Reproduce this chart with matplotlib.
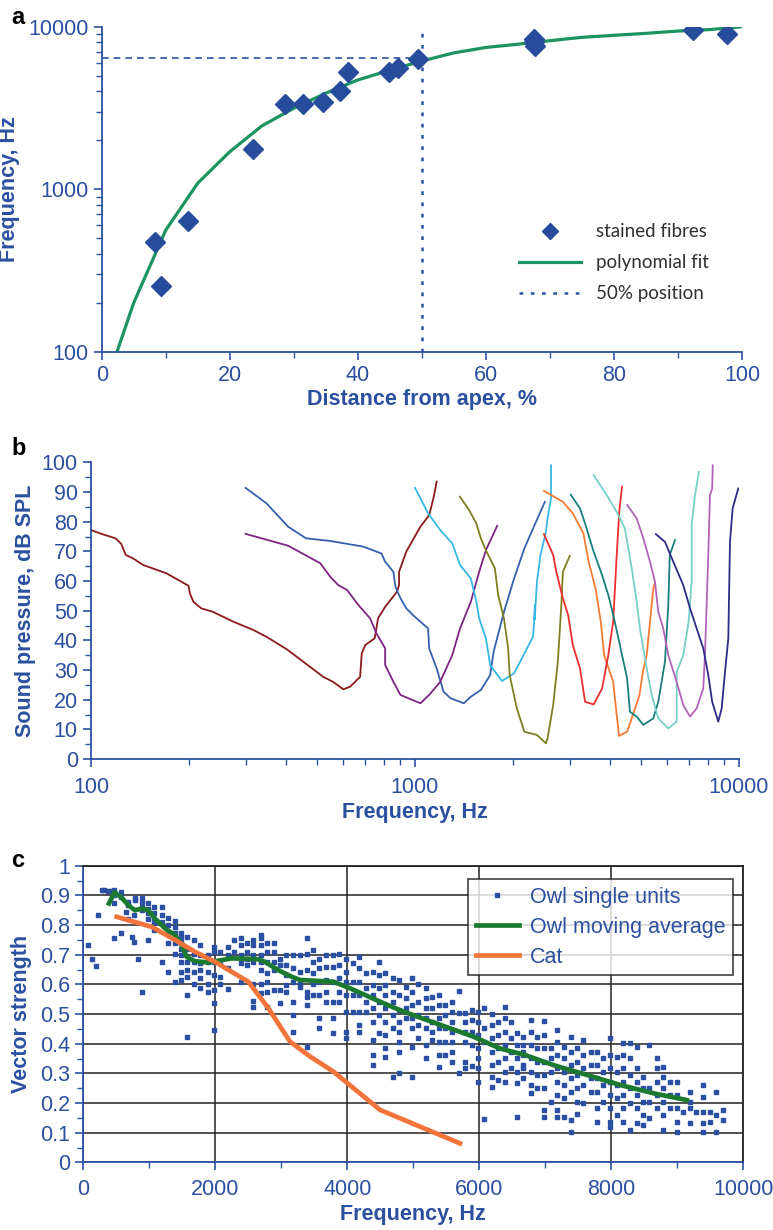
import numpy as np
import matplotlib
matplotlib.use("Agg")
import matplotlib.pyplot as plt
from matplotlib.ticker import MultipleLocator, FixedLocator, NullFormatter, FuncFormatter, LogLocator

plt.rcParams['font.family'] = ['Liberation Sans', 'DejaVu Sans']

BLUE = '#2c52a2'
TXT = '#2b50a0'

# ---- panel a: fibre positions vs frequency
fib_pos = [8.3, 9.2, 13.5, 23.6, 28.7, 31.5, 34.5, 37.2, 38.5, 44.8, 46.3, 49.4, 67.5, 67.5, 67.6, 92.4, 97.7]
fib_freq = [471, 255, 637, 1766, 3340, 3340, 3430, 4035, 5240, 5240, 5600, 6325, 8400, 8100, 7640, 9550, 8980]
fit_pos = [2, 5, 10, 15, 20, 25, 30, 35, 40, 45, 50, 55, 60, 65, 70, 75, 80, 85, 90, 95, 100]
fit_freq = [90, 200, 560, 1090, 1700, 2450, 3150, 3900, 4700, 5400, 6150, 6900, 7450, 7800, 8200, 8600, 8850, 9100, 9400, 9600, 10000]
half_pos = 50
half_freq = 6400

# ---- panel b: tuning curves (frequency Hz, dB SPL)
tc_maroon = [(100, 77.2), (107, 76), (119, 74.4), (124, 72.5), (128, 68.8), (135, 67.6), (145, 65.4),
             (171, 62.6), (200, 58.4), (202, 55.8), (207, 53), (219, 50.8), (238, 49.6), (275, 46.3),
             (317, 43.5), (348, 41.2), (402, 37), (474, 31.1), (521, 27.7), (559, 26), (601, 23.5),
             (631, 24.4), (677, 27.7), (685, 35.6), (702, 38.4), (751, 40.7), (769, 47.4), (809, 51.3),
             (880, 56.4), (893, 58.6), (893, 63.1), (940, 69.9), (1039, 78.3), (1106, 82.2),
             (1140, 87.9), (1167, 93.5)]
tc_blue = [(300, 91.4), (348, 86.2), (406, 78.3), (461, 74.4), (548, 73.5), (692, 71.6), (788, 69.3),
           (809, 66.5), (858, 63.1), (870, 58.1), (902, 54.2), (940, 50.8), (986, 48.5), (1098, 44),
           (1106, 37.3), (1167, 30.5), (1225, 22.7), (1288, 20.5), (1415, 18.8), (1487, 21),
           (1598, 23.3), (1706, 28.3), (1749, 36.2), (1882, 49.6), (2023, 60.9), (2176, 71),
           (2340, 78.9), (2517, 86.7)]
tc_purple = [(300, 75.9), (406, 71.9), (510, 66), (548, 61.4), (580, 58.6), (617, 57), (669, 51.9),
             (727, 47.4), (760, 42.4), (809, 37.3), (809, 31.7), (858, 26), (902, 21.6), (1039, 18.8),
             (1106, 21.6), (1196, 26), (1303, 35), (1377, 44), (1487, 53), (1578, 63.1),
             (1655, 70.4), (1793, 78.6)]
tc_cyan = [(1000, 91.4), (1098, 82.8), (1196, 77.2), (1303, 72.7), (1377, 65.4), (1487, 60.9),
           (1547, 53), (1578, 47.4), (1655, 40.7), (1706, 31.7), (1855, 26.3), (2023, 28.9),
           (2313, 41.2), (2335, 47), (2345, 52), (2340, 47), (2380, 59.8), (2440, 68.8),
           (2536, 76.6), (2565, 81.1), (2630, 87.9), (2630, 99)]
tc_olive = [(1377, 88.4), (1469, 83.9), (1547, 79.4), (1598, 74.3), (1655, 70.4), (1764, 64.3),
            (1806, 55.3), (1882, 47.4), (1939, 37.3), (1960, 28.3), (2062, 17.1), (2176, 9.2),
            (2380, 8.1), (2536, 5.3), (2565, 7), (2670, 18.2), (2760, 32.8), (2830, 51.9),
            (2860, 63.1), (3005, 68.5)]
tc_orange = [(2500, 90.4), (2860, 86.7), (3070, 82.8), (3312, 76), (3435, 66.5), (3608, 57.5),
             (3745, 46.3), (3837, 35), (4090, 26), (4194, 14.8), (4266, 7.8), (4510, 9.2),
             (4630, 12.6), (4930, 21.6), (5050, 29.4), (5189, 35), (5313, 46.3), (5439, 57.5),
             (5503, 59.2)]
tc_red = [(2500, 75.8), (2670, 68.8), (2730, 63.1), (2860, 54.2), (2970, 48.5), (3070, 38.4),
          (3230, 30.6), (3350, 19.3), (3560, 18.4), (3780, 23.8), (3950, 35), (4090, 46.3),
          (4194, 68.8), (4270, 83.3), (4354, 91.8)]
tc_teal = [(3025, 89.1), (3230, 84.5), (3360, 78.9), (3560, 69.9), (3780, 62), (3950, 55.3),
           (4093, 48.5), (4290, 38.4), (4515, 27.2), (4608, 15.9), (4834, 14.3), (5067, 11.5),
           (5439, 13.7), (5636, 19.3), (5910, 32.8), (6050, 51.9), (6115, 68.8), (6345, 73.8)]
tc_aqua = [(3560, 95.7), (3904, 89), (4194, 83.3), (4446, 77.7), (4666, 64.3), (4834, 53),
           (4947, 44), (5190, 30.6), (5377, 21.6), (5636, 13.7), (6050, 10.3), (6422, 12.6),
           (6422, 29.4), (6731, 35), (6990, 46.3), (7145, 59.8), (7145, 78.9), (7314, 89),
           (7524, 96.8)]
tc_orchid = [(4522, 85.6), (4834, 81.1), (5067, 74.4), (5313, 66.5), (5503, 59.8), (5636, 49.6),
             (5838, 44), (6050, 35), (6422, 26), (6731, 18.2), (7061, 14.3), (7403, 17.1),
             (7758, 23.8), (7852, 35), (8040, 68.8), (8137, 89), (8266, 91.2), (8300, 99)]
tc_navy = [(5540, 75.8), (5910, 73.2), (6270, 66.5), (6731, 58.6), (7061, 50.8), (7403, 44),
           (7758, 37.3), (8040, 28.3), (8266, 19.3), (8630, 12.6), (8843, 17.1), (9055, 29.4),
           (9270, 40.7), (9380, 73.2), (9560, 84.5), (9950, 91.2)]
tc_list = [tc_maroon, tc_blue, tc_purple, tc_cyan, tc_olive, tc_orange, tc_red, tc_teal,
           tc_aqua, tc_orchid, tc_navy]
tc_colors = ['#8b1a1a', '#3560b0', '#7d2382', '#36b8e6', '#7f7f22', '#f47b30', '#ec2e2e',
             '#17807a', '#76d0c8', '#b263b8', '#2c2c86']

# ---- panel c: vector strength
owl_freq = [66, 137, 187, 228, 278, 319, 379, 420, 470, 571, 642, 682, 733, 773, 783, 823, 884, 985,
            1076, 1187, 1278, 1389, 1480, 1571, 1682, 1773, 1884, 1980, 2071, 2187, 2278, 2384,
            2485, 2576, 2687, 2778, 2889, 2980, 3071, 3182, 3283, 3384, 3475, 3576, 3677, 3778,
            3879, 3980, 4081, 4182, 4283, 4394, 4485, 4576, 4687, 4778, 4889, 4980, 5076, 5192,
            5283, 5394, 5485, 5581, 5687, 5783, 5894, 5985, 6076, 6187, 6288, 6389, 6475, 6576,
            6656, 6779, 6880, 6981, 7082, 7183, 7284, 7390, 7486, 7576, 7688, 7778, 7880, 7981,
            8081, 8183, 8284, 8385, 8486, 8576, 8688, 8778, 8890, 8991, 9092, 9192, 9283, 9394,
            9495, 9581, 9687]
owl_vs = [
    [0.732], [0.685], [0.663], [0.833], [0.92], [0.92], [0.915], [0.915],
    [0.92, 0.91, 0.90, 0.873, 0.755], [0.91, 0.895, 0.775], [0.845], [0.878, 0.867, 0.822],
    [0.76], [0.744, 0.834], [0.89, 0.884], [0.685], [0.892, 0.878, 0.862, 0.85, 0.575],
    [0.873, 0.856, 0.84, 0.822, 0.75], [0.86, 0.84, 0.817, 0.806, 0.783],
    [0.86, 0.834, 0.81, 0.674], [0.825, 0.8, 0.772, 0.738, 0.643],
    [0.813, 0.794, 0.772, 0.755, 0.738, 0.704, 0.609],
    [0.775, 0.76, 0.744, 0.721, 0.699, 0.676, 0.643, 0.615],
    [0.76, 0.721, 0.676, 0.648, 0.626, 0.566, 0.424], [0.75, 0.704, 0.676, 0.643, 0.603],
    [0.732, 0.699, 0.671, 0.648, 0.62, 0.587], [0.699, 0.676, 0.643, 0.603, 0.575],
    [0.727, 0.71, 0.676, 0.632, 0.581, 0.536, 0.446], [0.708, 0.676, 0.626, 0.603],
    [0.727, 0.699, 0.654, 0.584], [0.75, 0.71], [0.755, 0.732, 0.699, 0.671, 0.607],
    [0.741, 0.71, 0.687, 0.665], [0.75, 0.732, 0.699, 0.676, 0.603, 0.544, 0.525],
    [0.768, 0.755, 0.732, 0.699, 0.676, 0.648, 0.603, 0.57],
    [0.738, 0.71, 0.676, 0.637, 0.609, 0.575, 0.525], [0.738, 0.71, 0.676, 0.648, 0.581],
    [0.687, 0.665, 0.581, 0.536], [0.699, 0.665, 0.632, 0.598, 0.575],
    [0.699, 0.654, 0.609, 0.542, 0.497, 0.44], [0.699, 0.643, 0.603, 0.592],
    [0.755, 0.704, 0.648, 0.575, 0.558, 0.53, 0.39], [0.716, 0.676, 0.637, 0.603, 0.564],
    [0.687, 0.654, 0.609, 0.564, 0.486, 0.454], [0.699, 0.66, 0.615, 0.575, 0.542],
    [0.699, 0.66, 0.609, 0.542, 0.486, 0.435], [0.704, 0.665, 0.62, 0.575, 0.542],
    [0.687, 0.643, 0.609, 0.564, 0.508, 0.44, 0.418], [0.671, 0.609, 0.564, 0.508],
    [0.693, 0.654, 0.609, 0.564, 0.508, 0.463, 0.44], [0.637, 0.587, 0.542, 0.508],
    [0.643, 0.598, 0.564, 0.519, 0.474, 0.412, 0.362, 0.328],
    [0.674, 0.632, 0.587, 0.542, 0.497, 0.435],
    [0.637, 0.598, 0.564, 0.519, 0.474, 0.429, 0.384, 0.354],
    [0.62, 0.575, 0.542, 0.497, 0.452, 0.289],
    [0.615, 0.564, 0.513, 0.474, 0.44, 0.407, 0.373, 0.3], [0.592, 0.553, 0.519, 0.486],
    [0.62, 0.575, 0.53, 0.486, 0.452, 0.39, 0.289], [0.603, 0.542, 0.497, 0.463, 0.418],
    [0.587, 0.553, 0.519, 0.486, 0.452, 0.396, 0.353], [0.558, 0.519, 0.474, 0.44, 0.412],
    [0.564, 0.53, 0.486, 0.452, 0.407, 0.362, 0.323], [0.53, 0.497, 0.452, 0.407, 0.362],
    [0.542, 0.508, 0.474, 0.44, 0.407, 0.373, 0.337], [0.577, 0.502, 0.3],
    [0.502, 0.474, 0.44, 0.407, 0.34, 0.317], [0.513, 0.48, 0.44, 0.396, 0.326],
    [0.508, 0.474, 0.429, 0.384, 0.351, 0.317, 0.272], [0.519, 0.452, 0.407, 0.145],
    [0.499, 0.463, 0.418, 0.373, 0.328, 0.289, 0.255], [0.474, 0.429, 0.384, 0.34, 0.278],
    [0.525, 0.486, 0.44, 0.396, 0.351, 0.306, 0.272], [0.474, 0.418, 0.373, 0.317],
    [0.435, 0.396, 0.351, 0.306, 0.266, 0.154], [0.424, 0.373, 0.328, 0.396, 0.362, 0.317, 0.283],
    [0.48, 0.441, 0.396, 0.351, 0.306, 0.261, 0.233], [0.424, 0.384, 0.34, 0.295, 0.252],
    [0.478, 0.429, 0.384, 0.34, 0.295, 0.25, 0.177, 0.154], [0.387, 0.351, 0.306, 0.205],
    [0.446, 0.407, 0.362, 0.317, 0.272, 0.227, 0.177, 0.154],
    [0.39, 0.351, 0.306, 0.261, 0.216, 0.154],
    [0.424, 0.373, 0.328, 0.283, 0.238, 0.143, 0.104],
    [0.384, 0.34, 0.295, 0.25, 0.205, 0.162], [0.412, 0.362, 0.317, 0.261, 0.199],
    [0.373, 0.328, 0.283, 0.238], [0.373, 0.328, 0.283, 0.238, 0.182, 0.137],
    [0.351, 0.306, 0.261, 0.205], [0.418, 0.362, 0.317, 0.272, 0.227, 0.182, 0.137, 0.12],
    [0.356, 0.306, 0.261, 0.216, 0.16], [0.401, 0.362, 0.317, 0.272, 0.227, 0.182, 0.137],
    [0.401, 0.351, 0.295, 0.25, 0.199, 0.109], [0.39, 0.317, 0.272, 0.227, 0.182, 0.132],
    [0.289, 0.25, 0.205, 0.16, 0.126], [0.396, 0.25, 0.205, 0.149],
    [0.351, 0.317, 0.272, 0.227, 0.182], [0.323, 0.289, 0.25, 0.205, 0.16, 0.109],
    [0.272, 0.227, 0.182], [0.272, 0.227, 0.182, 0.137, 0.104], [0.171],
    [0.236, 0.205, 0.182, 0.132], [0.171], [0.261, 0.222, 0.171, 0.132, 0.104],
    [0.171, 0.137], [0.238, 0.16, 0.104], [0.177, 0.143]]
avg_freq = [389, 470, 571, 682, 783, 884, 985, 1086, 1238, 1389, 1490, 1566, 1692, 1894, 2097,
            2248, 2652, 2753, 2955, 3157, 3283, 3788, 4040, 4495, 4798, 5202, 5556, 5909, 6313,
            6692, 7122, 7627, 8132, 8637, 9142]
avg_vs = [0.873, 0.91, 0.895, 0.867, 0.85, 0.856, 0.85, 0.822, 0.789, 0.766, 0.732, 0.693, 0.678,
          0.674, 0.682, 0.688, 0.685, 0.676, 0.648, 0.626, 0.615, 0.609, 0.587, 0.542, 0.513,
          0.48, 0.452, 0.424, 0.384, 0.362, 0.328, 0.295, 0.261, 0.233, 0.21]
cat_freq = [505, 1036, 1389, 1692, 1995, 2500, 2803, 3132, 3435, 3788, 4495, 5707]
cat_vs = [0.828, 0.794, 0.75, 0.71, 0.676, 0.609, 0.52, 0.407, 0.357, 0.306, 0.177, 0.064]

fig = plt.figure(figsize=(7.73, 12.30), dpi=100)


def style_axis(ax):
    for s in ['left', 'bottom']:
        ax.spines[s].set_color(BLUE)
        ax.spines[s].set_linewidth(1.3)
    ax.tick_params(which='both', direction='out', colors=BLUE, labelcolor=TXT, labelsize=15.5)
    ax.tick_params(which='major', length=6, width=1.2)
    ax.tick_params(which='minor', length=4, width=1.0)


# panel a
ax1 = fig.add_axes([0.1316, 0.7141, 0.8283, 0.2642])
ax1.plot([0, half_pos], [half_freq, half_freq], color=BLUE, ls=(0, (4, 3)), lw=1.2)
ax1.plot([half_pos, half_pos], [100, 10000], color=BLUE, ls=(0, (1.5, 3)), lw=1.8)
ax1.plot(fit_pos, fit_freq, color='#1c9460', lw=2.3, label='polynomial fit')
ax1.plot(fib_pos, fib_freq, 'D', color='#274c9c', ms=10, ls='none', label='stained fibres')
ax1.set_yscale('log')
ax1.set_xlim(0, 100)
ax1.set_ylim(100, 10000)
ax1.spines['top'].set_visible(False)
ax1.spines['right'].set_visible(False)
style_axis(ax1)
ax1.xaxis.set_major_locator(MultipleLocator(20))
ax1.xaxis.set_minor_locator(MultipleLocator(10))
ax1.yaxis.set_major_locator(FixedLocator([100, 1000, 10000]))
ax1.yaxis.set_minor_locator(LogLocator(subs=np.arange(2, 10)))
ax1.yaxis.set_major_formatter(FuncFormatter(lambda v, p: '%d' % v))
ax1.yaxis.set_minor_formatter(NullFormatter())
ax1.set_xlabel('Distance from apex, %', fontsize=15.5, fontweight='bold', color=TXT, labelpad=2)
ax1.set_ylabel('Frequency, Hz', fontsize=15.5, fontweight='bold', color=TXT, labelpad=6)
h_pts = ax1.lines[3]
h_fit = ax1.lines[2]
h_half = ax1.lines[1]
leg1 = ax1.legend([h_pts, h_fit, h_half], ['stained fibres', 'polynomial fit', '50% position'],
                  loc='lower right', bbox_to_anchor=(0.975, 0.1), frameon=False,
                  prop={'family': 'Lato', 'size': 13.5}, handlelength=3.3, labelspacing=0.75,
                  markerscale=0.85)
for t in leg1.get_texts():
    t.set_color('#303030')
fig.text(0.015, 0.995, 'a', fontsize=17, fontweight='bold', va='top')

# panel b
ax2 = fig.add_axes([0.1177, 0.3829, 0.8383, 0.2412])
for curve, col in zip(tc_list, tc_colors):
    f = [p[0] for p in curve]
    d = [p[1] for p in curve]
    ax2.plot(f, d, color=col, lw=1.3)
ax2.set_xscale('log')
ax2.set_xlim(100, 10000)
ax2.set_ylim(0, 100)
ax2.spines['top'].set_visible(False)
ax2.spines['right'].set_visible(False)
style_axis(ax2)
ax2.yaxis.set_major_locator(MultipleLocator(10))
ax2.yaxis.set_minor_locator(MultipleLocator(5))
ax2.xaxis.set_major_locator(FixedLocator([100, 1000, 10000]))
ax2.xaxis.set_minor_locator(LogLocator(subs=np.arange(2, 10)))
ax2.xaxis.set_major_formatter(FuncFormatter(lambda v, p: '%d' % v))
ax2.xaxis.set_minor_formatter(NullFormatter())
ax2.tick_params(axis='x', which='major', pad=7)
ax2.set_xlabel('Frequency, Hz', fontsize=15.5, fontweight='bold', color=TXT, labelpad=3)
ax2.set_ylabel('Sound pressure, dB SPL', fontsize=15.5, fontweight='bold', color=TXT, labelpad=4)
fig.text(0.015, 0.645, 'b', fontsize=17, fontweight='bold', va='top')

# panel c
ax3 = fig.add_axes([0.1078, 0.0550, 0.8538, 0.2411])
sx, sy = [], []
for f, vals in zip(owl_freq, owl_vs):
    for v in vals:
        sx.append(f)
        sy.append(v)
ax3.plot(sx, sy, 's', color='#2a4fa3', ms=2.4, ls='none', label='Owl single units')
ax3.plot(avg_freq, avg_vs, color='#1c7a30', lw=3.4, label='Owl moving average')
ax3.plot(cat_freq, cat_vs, color='#f2743a', lw=3.4, label='Cat')
ax3.set_xlim(0, 10000)
ax3.set_ylim(0, 1)
style_axis(ax3)
ax3.spines['top'].set_color('#222222')
ax3.spines['right'].set_color('#222222')
ax3.spines['top'].set_linewidth(1.3)
ax3.spines['right'].set_linewidth(1.3)
ax3.xaxis.set_major_locator(MultipleLocator(2000))
ax3.xaxis.set_minor_locator(MultipleLocator(1000))
ax3.yaxis.set_major_locator(MultipleLocator(0.1))
ax3.yaxis.set_minor_locator(MultipleLocator(0.05))
ax3.yaxis.set_major_formatter(FuncFormatter(lambda v, p: ('%.1f' % v).rstrip('0').rstrip('.') if v > 0 else '0'))
ax3.tick_params(axis='x', which='major', pad=6)
ax3.grid(True, which='major', color='#222222', lw=1.1)
ax3.set_axisbelow(True)
ax3.set_xlabel('Frequency, Hz', fontsize=15.5, fontweight='bold', color=TXT, labelpad=3)
ax3.set_ylabel('Vector strength', fontsize=15.5, fontweight='bold', color=TXT, labelpad=6)
leg3 = ax3.legend(loc='upper right', bbox_to_anchor=(0.984, 0.955), borderaxespad=0,
                  fontsize=15.5, frameon=True, fancybox=False, edgecolor='#222222',
                  handlelength=2.0, markerscale=1.2, borderpad=0.35, labelspacing=0.42,
                  handletextpad=0.5)
leg3.get_frame().set_linewidth(1.3)
for t in leg3.get_texts():
    t.set_color(TXT)
fig.text(0.015, 0.31, 'c', fontsize=17, fontweight='bold', va='top')

fig.savefig('out.png', dpi=100)
